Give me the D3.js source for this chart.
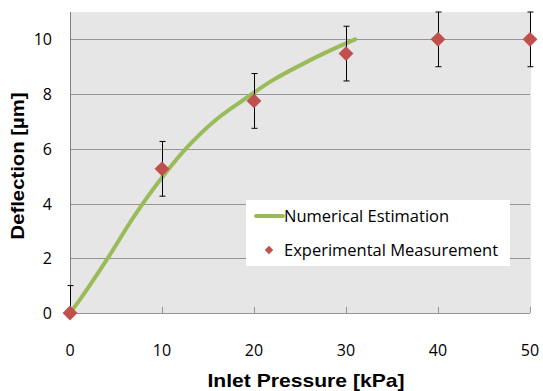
<!DOCTYPE html>
<html>
<head>
<meta charset="utf-8">
<script src="https://cdn.jsdelivr.net/npm/d3@7"></script>
<style>
  body { margin: 0; background: #fff; }
  svg { display: block; }
</style>
</head>
<body>
<div id="chart"></div>
<script>
// Numerical estimation curve (pressure kPa, deflection um)
const simPressure = [0, 1, 4, 7, 10, 13, 16, 19, 22, 25, 28, 31];
const simDeflection = [0, 0.45, 1.95, 3.55, 4.95, 6.15, 7.1, 7.82, 8.5, 9.05, 9.55, 10.0];

// Experimental measurements with error bars
const expPressure = [0, 10, 20, 30, 40, 50];
const expDeflection = [0, 5.27, 7.75, 9.48, 10, 10];
const expError = [1, 1, 1, 1, 1, 1];

const xTicks = [0, 10, 20, 30, 40, 50];
const yTicks = [0, 2, 4, 6, 8, 10];

const width = 543, height = 391;
const margin = { top: 12, right: 13, bottom: 78, left: 70 };
const innerW = width - margin.left - margin.right;
const innerH = height - margin.top - margin.bottom;

const svg = d3.select("#chart")
    .append("svg")
    .attr("width", width)
    .attr("height", height);

const g = svg.append("g")
    .attr("transform", `translate(${margin.left},${margin.top})`);

const x = d3.scaleLinear().domain([0, 50]).range([0, innerW]);
const y = d3.scaleLinear().domain([0, 11]).range([innerH, 0]);

// plot background
g.append("rect")
    .attr("width", innerW + 1)
    .attr("height", innerH)
    .attr("fill", "#e6e6e6");

// gridlines
g.append("g")
    .selectAll("line")
    .data(yTicks)
    .join("line")
    .attr("x1", 0)
    .attr("x2", innerW)
    .attr("y1", d => Math.round(y(d)) + 0.5)
    .attr("y2", d => Math.round(y(d)) + 0.5)
    .attr("stroke", "#959595")
    .attr("stroke-width", 1);

// x axis ticks (pointing up)
g.append("g")
    .selectAll("line")
    .data(xTicks.slice(1))
    .join("line")
    .attr("x1", d => Math.round(x(d)) + 0.5)
    .attr("x2", d => Math.round(x(d)) + 0.5)
    .attr("y1", innerH)
    .attr("y2", innerH - 6)
    .attr("stroke", "#959595");

// y axis line
g.append("line")
    .attr("x1", 0.5).attr("x2", 0.5)
    .attr("y1", 0).attr("y2", innerH)
    .attr("stroke", "#808080");

// tick labels
g.append("g")
    .selectAll("text")
    .data(yTicks)
    .join("text")
    .attr("x", -18)
    .attr("y", d => y(d) + 6)
    .attr("text-anchor", "end")
    .style("font-family", "'Open Sans', sans-serif")
    .style("font-size", "16px")
    .attr("fill", "#000")
    .text(d => d);

g.append("g")
    .selectAll("text")
    .data(xTicks)
    .join("text")
    .attr("x", d => x(d))
    .attr("y", innerH + 43)
    .attr("text-anchor", "middle")
    .style("font-family", "'Open Sans', sans-serif")
    .style("font-size", "16px")
    .attr("fill", "#000")
    .text(d => d);

// axis titles
svg.append("text")
    .attr("x", 306)
    .attr("y", 387)
    .attr("text-anchor", "middle")
    .attr("textLength", 197)
    .attr("lengthAdjust", "spacingAndGlyphs")
    .style("font-family", "'Liberation Sans', Arial, sans-serif")
    .style("font-weight", "bold")
    .style("font-size", "19px")
    .text("Inlet Pressure [kPa]");

svg.append("text")
    .attr("transform", "translate(24,166) rotate(-90)")
    .attr("text-anchor", "middle")
    .attr("textLength", 147)
    .attr("lengthAdjust", "spacingAndGlyphs")
    .style("font-family", "'Liberation Sans', Arial, sans-serif")
    .style("font-weight", "bold")
    .style("font-size", "19px")
    .text("Deflection [µm]");

// numerical estimation line
const simData = simPressure.map((p, i) => ({ p, d: simDeflection[i] }));
const line = d3.line()
    .x(d => x(d.p))
    .y(d => y(d.d))
    .curve(d3.curveCatmullRom.alpha(0.5));

g.append("path")
    .datum(simData)
    .attr("fill", "none")
    .attr("stroke", "#9bbb59")
    .attr("stroke-width", 4)
    .attr("stroke-linecap", "round")
    .attr("d", line);

// experimental points
const expData = expPressure.map((p, i) => ({ p, d: expDeflection[i], e: expError[i] }));

const errs = g.append("g");
expData.forEach(d => {
    const cx = Math.round(x(d.p)) + 0.5;
    const top = y(d.d + d.e);
    const bot = Math.min(y(d.d - d.e), innerH);
    errs.append("line")
        .attr("x1", cx).attr("x2", cx)
        .attr("y1", top).attr("y2", bot)
        .attr("stroke", "#000").attr("stroke-width", 1);
    errs.append("line")
        .attr("x1", cx - 3).attr("x2", cx + 3)
        .attr("y1", top).attr("y2", top)
        .attr("stroke", "#000").attr("stroke-width", 1);
    if (d.d - d.e >= 0) {
        errs.append("line")
            .attr("x1", cx - 3).attr("x2", cx + 3)
            .attr("y1", bot).attr("y2", bot)
            .attr("stroke", "#000").attr("stroke-width", 1);
    }
});

g.append("g")
    .selectAll("path")
    .data(expData)
    .join("path")
    .attr("transform", d => `translate(${x(d.p)},${y(d.d)}) rotate(45)`)
    .attr("d", d3.symbol().type(d3.symbolSquare).size(110))
    .attr("fill", "#c0504d");

// legend
const legend = svg.append("g").attr("transform", "translate(246,200)");
legend.append("rect")
    .attr("width", 264)
    .attr("height", 66)
    .attr("fill", "#fff");
legend.append("line")
    .attr("x1", 10).attr("x2", 37)
    .attr("y1", 16).attr("y2", 16)
    .attr("stroke", "#9bbb59")
    .attr("stroke-width", 4)
    .attr("stroke-linecap", "round");
legend.append("path")
    .attr("transform", "translate(23,50) rotate(45)")
    .attr("d", d3.symbol().type(d3.symbolSquare).size(36))
    .attr("fill", "#c0504d");
legend.selectAll("text.lbl")
    .data(["Numerical Estimation", "Experimental Measurement"])
    .join("text")
    .attr("class", "lbl")
    .attr("x", 38)
    .attr("y", (d, i) => 22 + i * 34)
    .style("font-family", "'Open Sans', sans-serif")
    .style("font-size", "16.5px")
    .attr("fill", "#000")
    .text(d => d);
</script>
</body>
</html>
